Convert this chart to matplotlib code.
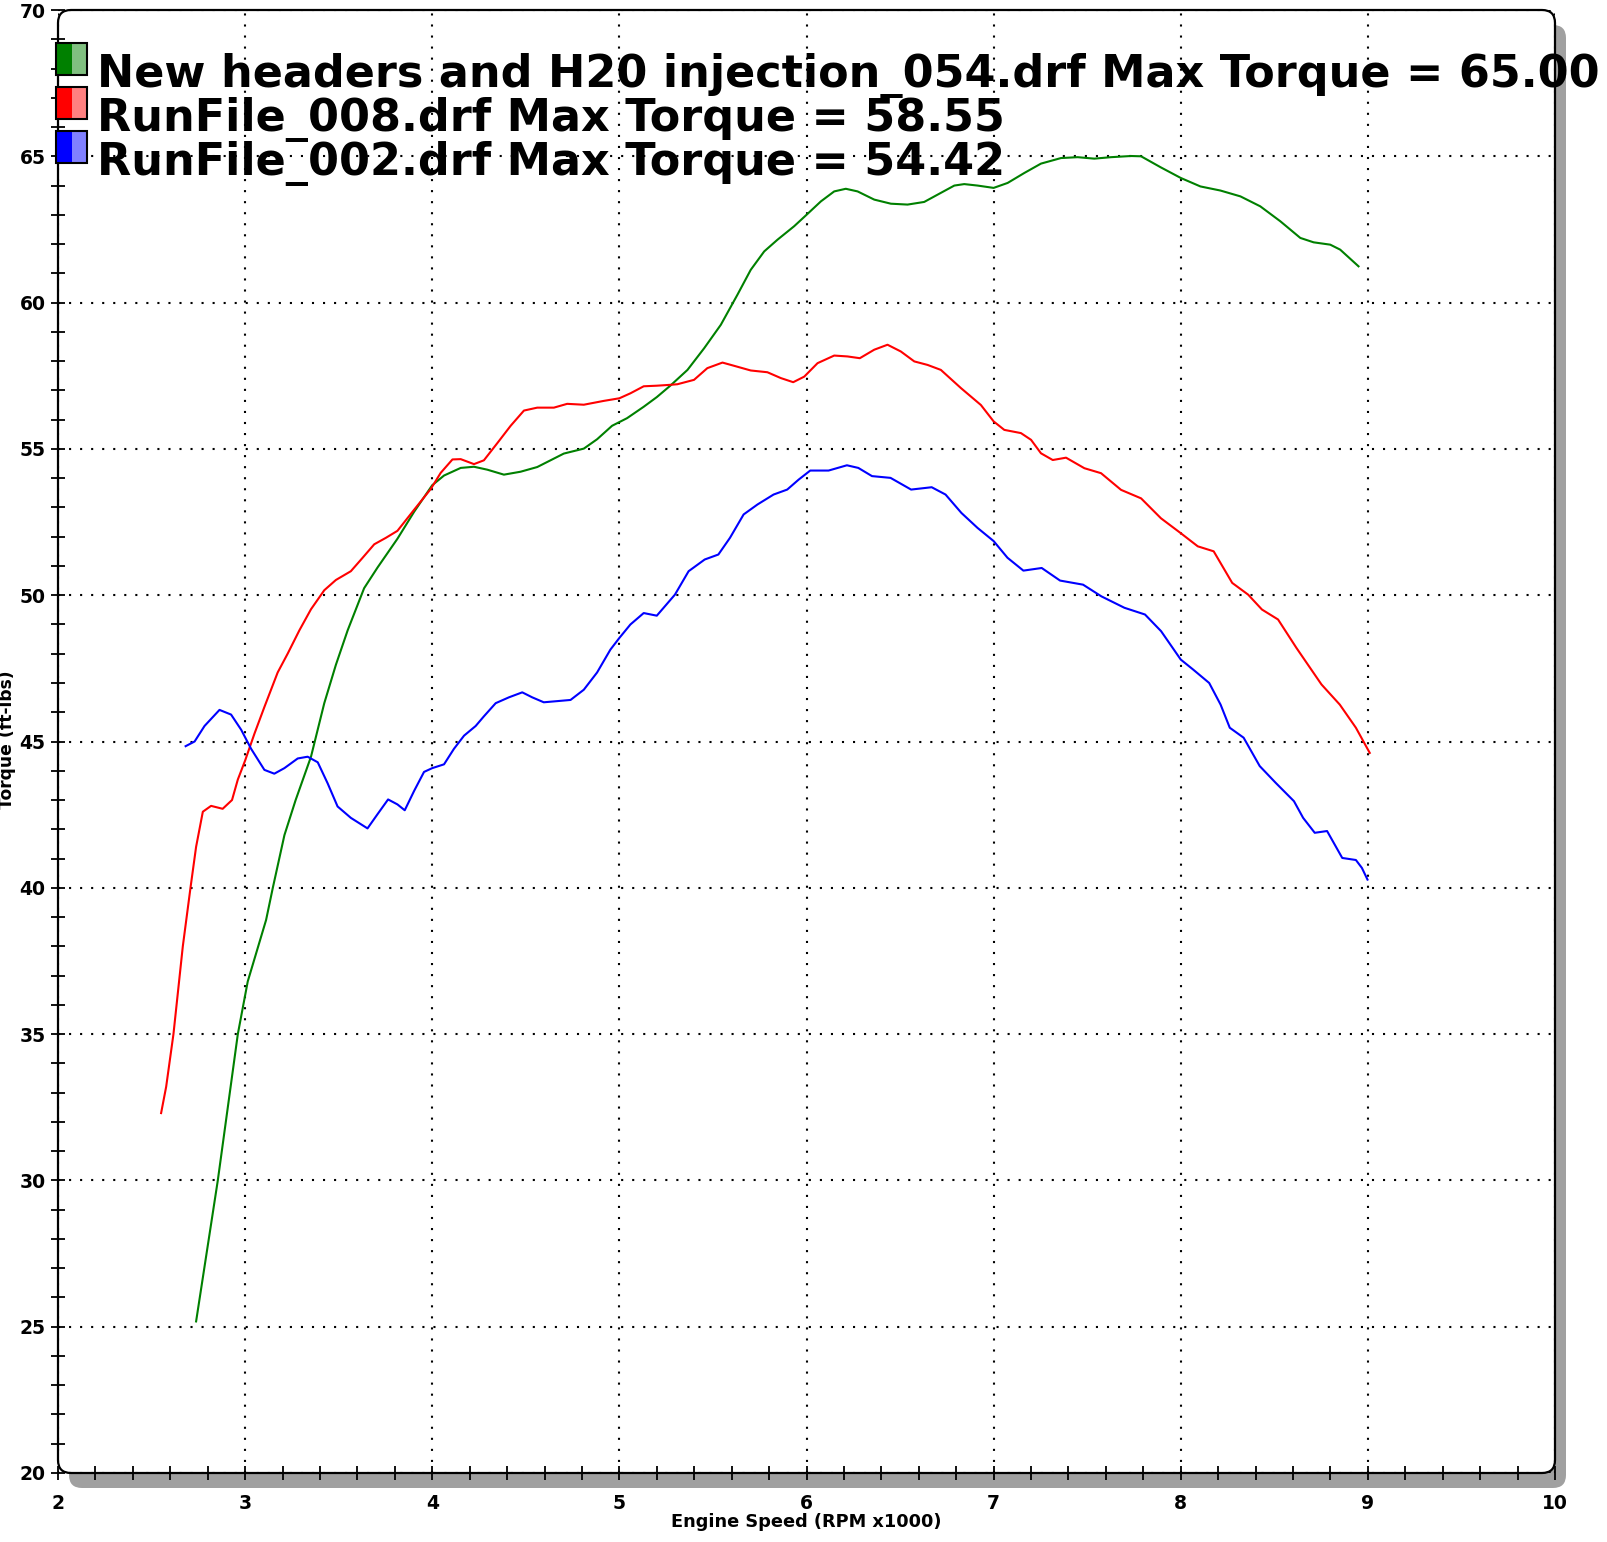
import matplotlib
matplotlib.use("Agg")
import matplotlib.pyplot as plt
from matplotlib.patches import FancyBboxPatch, Rectangle
from matplotlib.ticker import MultipleLocator
from matplotlib import font_manager as fm
from matplotlib.transforms import IdentityTransform

# ---------------- data ----------------
green_rpm = [2.738, 2.854, 2.961, 3.014, 3.112, 3.148, 3.21, 3.27, 3.352, 3.423, 3.485, 3.548,
             3.636, 3.708, 3.814, 3.903, 4.0, 4.063, 4.152, 4.223, 4.294, 4.383, 4.472, 4.561,
             4.632, 4.703, 4.81, 4.881, 4.961, 5.041, 5.13, 5.2, 5.272, 5.364, 5.453, 5.542,
             5.631, 5.702, 5.774, 5.845, 5.934, 6.0, 6.077, 6.148, 6.21, 6.273, 6.362, 6.451,
             6.54, 6.629, 6.718, 6.79, 6.843, 6.914, 7.0, 7.075, 7.164, 7.253, 7.36, 7.449,
             7.538, 7.627, 7.734, 7.788, 7.894, 8.0, 8.105, 8.212, 8.319, 8.425, 8.532, 8.639,
             8.71, 8.799, 8.852, 8.95]
green_tq = [25.18, 30.0, 35.0, 36.8, 38.9, 40.0, 41.8, 43.0, 44.48, 46.31, 47.62, 48.8,
            50.24, 50.95, 51.93, 52.85, 53.76, 54.09, 54.35, 54.39, 54.29, 54.12, 54.22, 54.38,
            54.61, 54.84, 55.01, 55.33, 55.79, 56.05, 56.44, 56.77, 57.16, 57.7, 58.44, 59.24,
            60.27, 61.12, 61.75, 62.15, 62.61, 63.0, 63.46, 63.8, 63.89, 63.8, 63.52, 63.38,
            63.35, 63.44, 63.75, 64.0, 64.05, 64.0, 63.92, 64.09, 64.43, 64.75, 64.94, 64.97,
            64.92, 64.97, 65.01, 65.0, 64.62, 64.26, 63.97, 63.83, 63.63, 63.29, 62.78, 62.21,
            62.06, 61.98, 61.81, 61.24]

red_rpm = [2.551, 2.578, 2.617, 2.667, 2.708, 2.738, 2.774, 2.818, 2.88, 2.93, 2.961, 3.0,
           3.05, 3.103, 3.174, 3.228, 3.29, 3.352, 3.423, 3.485, 3.565, 3.628, 3.69, 3.752,
           3.814, 3.903, 3.992, 4.045, 4.108, 4.152, 4.223, 4.276, 4.348, 4.419, 4.49, 4.561,
           4.65, 4.721, 4.81, 4.916, 5.0, 5.059, 5.13, 5.2, 5.272, 5.31, 5.399, 5.47, 5.551,
           5.613, 5.702, 5.791, 5.863, 5.929, 5.988, 6.059, 6.148, 6.219, 6.285, 6.362, 6.433,
           6.504, 6.576, 6.647, 6.718, 6.825, 6.932, 7.0, 7.057, 7.146, 7.2, 7.253, 7.316,
           7.387, 7.485, 7.574, 7.681, 7.788, 7.894, 8.0, 8.091, 8.176, 8.275, 8.36, 8.434,
           8.52, 8.618, 8.752, 8.85, 8.936, 9.01]
red_tq = [32.3, 33.2, 35.0, 38.0, 40.0, 41.4, 42.6, 42.8, 42.7, 43.0, 43.7, 44.35,
          45.27, 46.18, 47.36, 48.01, 48.8, 49.52, 50.17, 50.52, 50.82, 51.28, 51.74, 51.96,
          52.2, 52.92, 53.63, 54.18, 54.64, 54.65, 54.48, 54.61, 55.2, 55.79, 56.31, 56.41,
          56.41, 56.54, 56.51, 56.64, 56.73, 56.9, 57.14, 57.16, 57.19, 57.21, 57.36, 57.76, 57.95,
          57.84, 57.68, 57.62, 57.42, 57.28, 57.47, 57.93, 58.19, 58.16, 58.1, 58.39, 58.56,
          58.33, 57.99, 57.87, 57.7, 57.08, 56.5, 55.94, 55.65, 55.54, 55.31, 54.85, 54.62,
          54.7, 54.34, 54.17, 53.6, 53.31, 52.63, 52.12, 51.67, 51.5, 50.42, 50.02, 49.51,
          49.17, 48.2, 46.95, 46.26, 45.47, 44.61]

blue_rpm = [2.682, 2.73, 2.783, 2.863, 2.925, 2.979, 3.032, 3.103, 3.156, 3.21, 3.281, 3.334,
            3.388, 3.441, 3.494, 3.565, 3.654, 3.708, 3.764, 3.814, 3.853, 3.903, 3.956, 4.0,
            4.063, 4.116, 4.17, 4.232, 4.276, 4.339, 4.41, 4.481, 4.534, 4.596, 4.668, 4.739,
            4.81, 4.881, 4.952, 5.0, 5.059, 5.13, 5.2, 5.297, 5.37, 5.456, 5.529, 5.591, 5.664,
            5.738, 5.824, 5.897, 5.958, 6.02, 6.118, 6.216, 6.277, 6.35, 6.449, 6.559, 6.669,
            6.743, 6.828, 6.914, 7.0, 7.074, 7.159, 7.257, 7.355, 7.478, 7.576, 7.699, 7.809,
            7.895, 8.0, 8.066, 8.152, 8.213, 8.262, 8.336, 8.422, 8.507, 8.605, 8.654, 8.716,
            8.782, 8.863, 8.936, 8.968, 8.998]
blue_tq = [44.84, 45.0, 45.53, 46.08, 45.92, 45.40, 44.75, 44.03, 43.9, 44.09, 44.42, 44.48,
           44.29, 43.57, 42.78, 42.39, 42.03, 42.52, 43.02, 42.85, 42.65, 43.31, 43.96, 44.09,
           44.22, 44.75, 45.2, 45.53, 45.86, 46.31, 46.51, 46.68, 46.51, 46.34, 46.38, 46.42,
           46.77, 47.36, 48.14, 48.54, 49.0, 49.39, 49.3, 50.02, 50.82, 51.22, 51.39, 51.96, 52.76,
           53.1, 53.44, 53.61, 53.95, 54.26, 54.26, 54.44, 54.35, 54.07, 54.01, 53.61, 53.69,
           53.44, 52.81, 52.3, 51.85, 51.28, 50.84, 50.93, 50.5, 50.36, 49.96, 49.57, 49.34,
           48.77, 47.8, 47.46, 47.0, 46.26, 45.47, 45.13, 44.16, 43.59, 42.96, 42.39, 41.88,
           41.94, 41.02, 40.95, 40.68, 40.28]

series_labels = ["New headers and H20 injection_054.drf Max Torque = 65.00",
                 "RunFile_008.drf Max Torque = 58.55",
                 "RunFile_002.drf Max Torque = 54.42"]
series_colors = ["#008000", "#ff0000", "#0000ff"]
series_light = ["#80c080", "#ff8080", "#8080ff"]

x_label = "Engine Speed (RPM x1000)"
y_label = "Torque (ft-lbs)"

# ---------------- figure ----------------
W, H = 1607, 1542
fig = plt.figure(figsize=(W / 100, H / 100), dpi=100)

L, R, T, B = 58, 1555, 10, 1473   # axes in pixel (top-left origin)
ax = fig.add_axes([L / W, 1 - B / H, (R - L) / W, (B - T) / H])
ax.set_zorder(2)
ax.patch.set_visible(False)
for s in ax.spines.values():
    s.set_visible(False)

# rounded frame + shadow (pixel coordinates, bottom-left origin)
rad = 13
shadow = FancyBboxPatch((L + 11, H - B - 15), R - L, B - T,
                        boxstyle=f"round,pad=0,rounding_size={rad}",
                        transform=IdentityTransform(), facecolor="#a0a0a0",
                        edgecolor="none", zorder=-3)
frame = FancyBboxPatch((L, H - B), R - L, B - T,
                       boxstyle=f"round,pad=0,rounding_size={rad}",
                       transform=IdentityTransform(), facecolor="white",
                       edgecolor="black", linewidth=1.6, zorder=-2)
fig.add_artist(shadow)
fig.add_artist(frame)

ax.plot(green_rpm, green_tq, color=series_colors[0], lw=1.5, solid_joinstyle="round")
ax.plot(red_rpm, red_tq, color=series_colors[1], lw=1.5, solid_joinstyle="round")
ax.plot(blue_rpm, blue_tq, color=series_colors[2], lw=1.5, solid_joinstyle="round")

ax.set_xlim(2, 10)
ax.set_ylim(20, 70)
ax.xaxis.set_major_locator(MultipleLocator(1))
ax.xaxis.set_minor_locator(MultipleLocator(0.2))
ax.yaxis.set_major_locator(MultipleLocator(5))
ax.yaxis.set_minor_locator(MultipleLocator(1))
ax.tick_params(which="both", direction="inout", length=10, width=1.3, color="black")
ax.tick_params(axis="x", which="major", pad=10, labelsize=13.5)
ax.tick_params(axis="y", which="major", pad=4, labelsize=13.5)
for lab in ax.get_xticklabels() + ax.get_yticklabels():
    lab.set_fontweight("bold")
ax.grid(True, which="major", color="black", linestyle=(0, (1, 4.3)), linewidth=1.5)

fig.text(806 / W, 1 - 1522 / H, x_label, ha="center", va="center",
         fontsize=12.8, fontweight="bold")
fig.text(7 / W, 1 - 740 / H, y_label, ha="center", va="center", rotation=90,
         fontsize=12.3, fontweight="bold")

# ---------------- legend ----------------
lp = fm.FontProperties(family="DejaVu Sans", weight="bold", size=32)

box_tops = [43, 87, 131]
baselines = [87, 131, 175]
for i in range(3):
    y0 = H - box_tops[i] - 32
    fig.add_artist(Rectangle((56, y0), 16, 32, transform=IdentityTransform(),
                             facecolor=series_colors[i], edgecolor="none", zorder=5))
    fig.add_artist(Rectangle((72, y0), 15, 32, transform=IdentityTransform(),
                             facecolor=series_light[i], edgecolor="none", zorder=5))
    fig.add_artist(Rectangle((56, y0), 31, 32, transform=IdentityTransform(),
                             facecolor="none", edgecolor="black", linewidth=1.5, zorder=6))
    fig.text(97 / W, 1 - baselines[i] / H, series_labels[i], ha="left", va="baseline",
             fontproperties=lp, zorder=7)

fig.savefig("out.png", dpi=100)
